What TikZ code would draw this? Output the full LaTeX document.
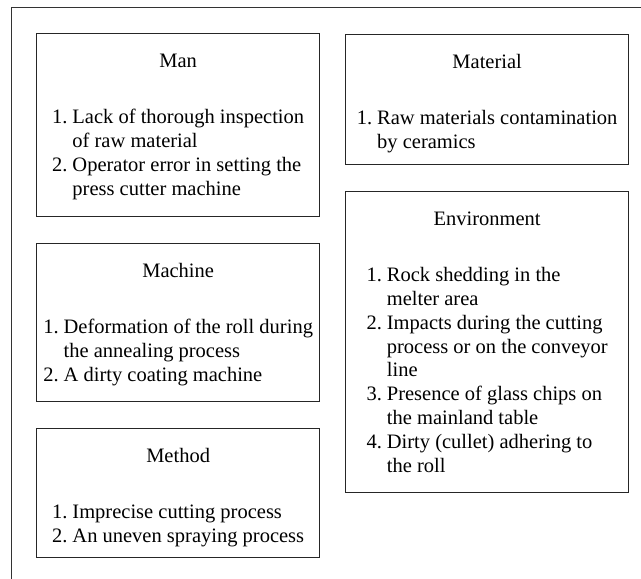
\documentclass[tikz,border=0pt]{standalone}
\usepackage{fontspec}
\setmainfont{Liberation Serif}
\begin{document}
\begin{tikzpicture}[x=1pt,y=-1pt,
  frameline/.style={draw=black!80, line width=1pt},
  panel/.style={draw=black!85, line width=1.3pt, anchor=north west, inner sep=0pt},
  paneltext/.style={anchor=north, inner sep=0pt,
    font=\fontsize{20.5}{23.8}\selectfont, yshift=-17.4pt},
]
\useasboundingbox (0,0) rectangle (641,579);

% open outer frame (top and left edges only)
\coordinate (fbl) at (11,579);
\coordinate (ftl) at (11,7.5);
\coordinate (ftr) at (641,7.5);
\draw[frameline] (fbl) -- (ftl) -- (ftr);

% category panels
\node[panel, minimum width=283pt, minimum height=183pt] (man) at (36,33) {};
\node[panel, minimum width=283pt, minimum height=158pt] (machine) at (36,243) {};
\node[panel, minimum width=283pt, minimum height=129pt] (method) at (36,428) {};
\node[panel, minimum width=283pt, minimum height=130pt] (material) at (345,34) {};
\node[panel, minimum width=283pt, minimum height=301pt] (environment) at (345,191) {};

% panel contents: heading, a blank line, then the numbered causes
\node[paneltext] (mantext) at (man.north) {%
  \begin{tabular}{@{}l@{\hspace{5pt}}l@{}}
  \multicolumn{2}{c}{Man}\\[32.7pt]
  1. & Lack of thorough inspection\\
     & of raw material\\
  2. & Operator error in setting the\\
     & press cutter machine
  \end{tabular}};

\node[paneltext] (machinetext) at (machine.north) {%
  \begin{tabular}{@{}l@{\hspace{5pt}}l@{}}
  \multicolumn{2}{c}{Machine}\\[32.7pt]
  1. & Deformation of the roll during\\
     & the annealing process\\
  2. & A dirty coating machine
  \end{tabular}};

\node[paneltext] (methodtext) at (method.north) {%
  \begin{tabular}{@{}l@{\hspace{5pt}}l@{}}
  \multicolumn{2}{c}{Method}\\[32.7pt]
  1. & Imprecise cutting process\\
  2. & An uneven spraying process
  \end{tabular}};

\node[paneltext] (materialtext) at (material.north) {%
  \begin{tabular}{@{}l@{\hspace{5pt}}l@{}}
  \multicolumn{2}{c}{Material}\\[32.7pt]
  1. & Raw materials contamination\\
     & by ceramics
  \end{tabular}};

\node[paneltext] (environmenttext) at (environment.north) {%
  \begin{tabular}{@{}l@{\hspace{5pt}}l@{}}
  \multicolumn{2}{c}{Environment}\\[32.7pt]
  1. & Rock shedding in the\\
     & melter area\\
  2. & Impacts during the cutting\\
     & process or on the conveyor\\
     & line\\
  3. & Presence of glass chips on\\
     & the mainland table\\
  4. & Dirty (cullet) adhering to\\
     & the roll
  \end{tabular}};
\end{tikzpicture}
\end{document}
